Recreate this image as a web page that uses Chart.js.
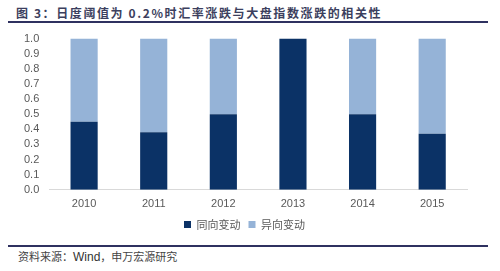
<!DOCTYPE html>
<html>
<head>
<meta charset="UTF-8">
<title>相关性</title>
<script src="https://cdn.jsdelivr.net/npm/chart.js"></script>
<style>
    body { margin: 0; background: #ffffff; width: 500px; height: 271px; position: relative; overflow: hidden; }
    #title { position: absolute; left: 16px; top: 4px; font: bold 12px "Noto Sans CJK SC", sans-serif; color: #3c3f5e; letter-spacing: 1.6px; }
    .rule { position: absolute; left: 8px; width: 480px; height: 2px; background: #2f3160; }
    #source { position: absolute; left: 18px; top: 248px; font: 11px "Noto Sans CJK SC", sans-serif; color: #444; }
    #source span { font-family: "Liberation Sans", Arial, sans-serif; font-size: 12px; color: #333; }
    #wrap { position: absolute; left: 0; top: 30px; width: 500px; height: 210px; }
</style>
</head>
<body>
<div id="title">图 3：日度阈值为 0.2%时汇率涨跌与大盘指数涨跌的相关性</div>
<div class="rule" style="top:21px;"></div>
<div id="wrap"><canvas id="chart"></canvas></div>
<div class="rule" style="top:245px;"></div>
<div id="source">资料来源：<span>Wind</span>，申万宏源研究</div>
<script>
    const years = ['2010', '2011', '2012', '2013', '2014', '2015'];
    const sameDir = [0.45, 0.38, 0.50, 1.00, 0.50, 0.37];
    const oppDir = [0.55, 0.62, 0.50, 0.00, 0.50, 0.63];
    const yTicks = [0, 0.1, 0.2, 0.3, 0.4, 0.5, 0.6, 0.7, 0.8, 0.9, 1.0];

    const tickFont = { family: 'Liberation Sans, Arial, sans-serif', size: 11 };

    new Chart(document.getElementById('chart'), {
        type: 'bar',
        data: {
            labels: years,
            datasets: [{
                label: '同向变动',
                data: sameDir,
                backgroundColor: '#0b3266',
                barPercentage: 0.39,
                categoryPercentage: 1
            }, {
                label: '异向变动',
                data: oppDir,
                backgroundColor: '#95b3d7',
                barPercentage: 0.39,
                categoryPercentage: 1
            }]
        },
        options: {
            responsive: true,
            maintainAspectRatio: false,
            animation: false,
            layout: { padding: { left: 22, right: 33, top: 2, bottom: 0 } },
            scales: {
                x: {
                    stacked: true,
                    grid: { display: false },
                    border: { display: true, color: '#d9d9d9' },
                    ticks: { color: '#595959', font: tickFont, padding: 0 }
                },
                y: {
                    stacked: true,
                    min: 0,
                    max: 1,
                    afterBuildTicks: axis => { axis.ticks = yTicks.map(v => ({ value: v })); },
                    grid: { display: false },
                    border: { display: false },
                    ticks: { color: '#595959', font: tickFont, padding: 2, autoSkip: false, callback: v => v.toFixed(1) }
                }
            },
            plugins: {
                legend: {
                    position: 'bottom',
                    labels: {
                        boxWidth: 7,
                        boxHeight: 7,
                        padding: 8,
                        color: '#595959',
                        font: { family: 'Noto Sans CJK SC, sans-serif', size: 11 }
                    }
                },
                tooltip: { enabled: false }
            }
        }
    });
</script>
</body>
</html>
